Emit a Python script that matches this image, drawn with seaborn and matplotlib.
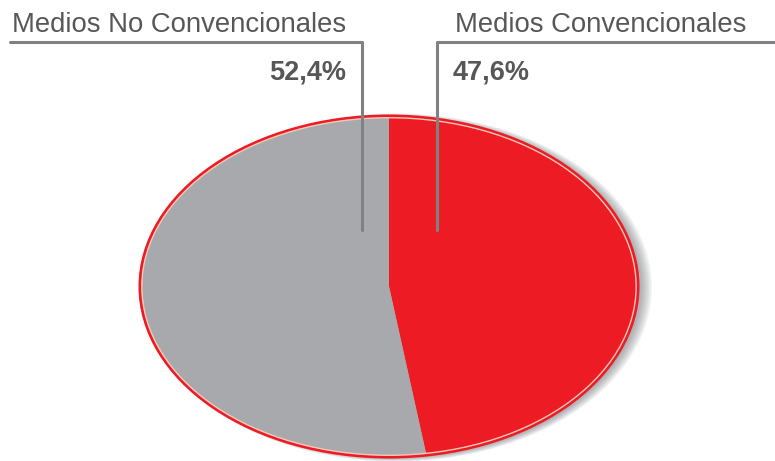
import matplotlib
matplotlib.use("Agg")
import matplotlib.pyplot as plt
import seaborn as sns
from matplotlib.patches import Ellipse
from matplotlib.lines import Line2D

# Data
labels = ["Medios Convencionales", "Medios No Convencionales"]
values = [47.6, 52.4]
value_labels = ["47,6%", "52,4%"]
colors = ["#ED1C24", "#A7A9AC"]

sns.set_theme(style="white")
plt.rcParams['font.family'] = ['Liberation Sans', 'DejaVu Sans']

W, H = 775, 461
fig = plt.figure(figsize=(W / 100, H / 100), dpi=100)

# ellipse bounds in pixels
left, right, top, bottom = 140, 638, 116, 457
ax = fig.add_axes([left / W, (H - bottom) / H, (right - left) / W, (bottom - top) / H])

pal = sns.color_palette(colors)
wedges, _ = ax.pie(values, colors=pal, startangle=90, counterclock=False,
                   wedgeprops=dict(linewidth=0), radius=1.0)
ax.set_aspect('auto')
ax.set_xlim(-1, 1)
ax.set_ylim(-1, 1)
ax.axis('off')

# soft shadow on the right
for k in range(8):
    e = Ellipse((0.014 + k * 0.002, -0.006), 2 * (1.0 + k * 0.004), 2 * (1.0 + k * 0.003),
                facecolor='#555a60', edgecolor='none', alpha=0.07, zorder=0, clip_on=False)
    ax.add_patch(e)

# outline: red edge with a light inner rim
ax.add_patch(Ellipse((0, 0), 2.0, 2.0, fill=False, edgecolor='#ED1C24', lw=2.2,
                     zorder=5, clip_on=False))
ax.add_patch(Ellipse((0, 0), 1.985, 1.98, fill=False, edgecolor='#F8C8B8', lw=1.0,
                     zorder=6, clip_on=False))

def fx(x):
    return x / W

def fy(y):
    return 1 - y / H

lc = '#808184'
# leader lines
fig.add_artist(Line2D([fx(10), fx(362), fx(362)], [fy(42), fy(42), fy(230)],
                      color=lc, lw=2.2, transform=fig.transFigure, zorder=10))
fig.add_artist(Line2D([fx(775), fx(437), fx(437)], [fy(42), fy(42), fy(230)],
                      color=lc, lw=2.2, transform=fig.transFigure, zorder=10))

tc = '#575757'
fig.text(fx(12), fy(32), labels[1], fontsize=19.8, color=tc, ha='left', va='baseline')
fig.text(fx(455), fy(32), labels[0], fontsize=19.8, color=tc, ha='left', va='baseline')
fig.text(fx(346), fy(79), value_labels[1], fontsize=19.5, color=tc, ha='right',
         va='baseline', fontweight='bold')
fig.text(fx(453), fy(79), value_labels[0], fontsize=19.5, color=tc, ha='left',
         va='baseline', fontweight='bold')

fig.savefig("out.png", dpi=100)
